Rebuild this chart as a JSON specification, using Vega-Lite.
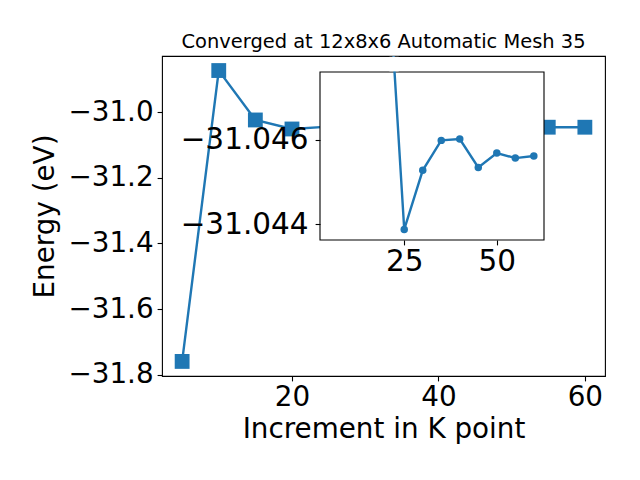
{
  "$schema": "https://vega.github.io/schema/vega-lite/v6.json",
  "width": 443,
  "height": 320,
  "autosize": "none",
  "padding": {"left": 162, "top": 56, "right": 35, "bottom": 104},
  "background": "white",
  "config": {
    "font": "DejaVu Sans",
    "view": {"stroke": "black", "strokeWidth": 1.1},
    "axis": {
      "grid": false,
      "domain": false,
      "tickColor": "black",
      "tickSize": 4.9,
      "tickWidth": 1.1,
      "labelColor": "black",
      "labelFontSize": 27.8,
      "labelFont": "DejaVu Sans",
      "titleFont": "DejaVu Sans",
      "titleFontSize": 27.8,
      "titleFontWeight": "normal",
      "titleColor": "black",
      "labelPadding": 3,
      "labelFlush": false,
      "labelOverlap": false
    }
  },
  "title": {
    "text": "Converged at 12x8x6 Automatic Mesh 35",
    "font": "DejaVu Sans",
    "fontSize": 19.44,
    "fontWeight": "normal",
    "color": "black",
    "anchor": "middle",
    "baseline": "alphabetic",
    "frame": "group",
    "offset": -11
  },
  "datasets": {
    "energy": [
      {"k": 5, "energy": -31.7596},
      {"k": 10, "energy": -30.8728},
      {"k": 15, "energy": -31.0235},
      {"k": 20, "energy": -31.051},
      {"k": 25, "energy": -31.04388},
      {"k": 30, "energy": -31.04528},
      {"k": 35, "energy": -31.04599},
      {"k": 40, "energy": -31.04602},
      {"k": 45, "energy": -31.04535},
      {"k": 50, "energy": -31.04569},
      {"k": 55, "energy": -31.04557},
      {"k": 60, "energy": -31.04562}
    ]
  },
  "data": {"name": "energy"},
  "layer": [
    {
      "layer": [
        {
          "mark": {"type": "line", "color": "#1f77b4", "strokeWidth": 2.4},
          "encoding": {
            "x": {"field": "k", "type": "quantitative", "scale": {"domain": [2.25, 62.75], "zero": false, "nice": false}, "axis": {"values": [20, 40, 60], "title": "Increment in K point", "orient": "bottom", "titlePadding": 4}},
            "y": {"field": "energy", "type": "quantitative", "scale": {"domain": [-31.804, -30.8285], "zero": false, "nice": false}, "axis": {"values": [-31.8, -31.6, -31.4, -31.2, -31.0], "format": ".1f", "title": "Energy (eV)", "orient": "left", "titlePadding": 8, "labelPadding": 4}}
          }
        },
        {
          "mark": {"type": "point", "shape": "square", "filled": true, "size": 220, "color": "#1f77b4", "opacity": 1},
          "encoding": {
            "x": {"field": "k", "type": "quantitative", "scale": {"domain": [2.25, 62.75], "zero": false, "nice": false}, "axis": {"values": [20, 40, 60], "title": "Increment in K point", "orient": "bottom", "titlePadding": 4}},
            "y": {"field": "energy", "type": "quantitative", "scale": {"domain": [-31.804, -30.8285], "zero": false, "nice": false}, "axis": {"values": [-31.8, -31.6, -31.4, -31.2, -31.0], "format": ".1f", "title": "Energy (eV)", "orient": "left", "titlePadding": 8, "labelPadding": 4}}
          }
        }
      ]
    },
    {
      "transform": [{"filter": "datum.k >= 20"}],
      "layer": [
        {
          "data": {"values": [{}]},
          "mark": {"type": "rect", "fill": "white", "stroke": "black", "strokeWidth": 1.1},
          "encoding": {
            "x": {"datum": 2.25, "type": "quantitative", "scale": {"domain": [2.25, 62.75], "range": [158, 382], "zero": false, "nice": false}, "axis": {"values": [25, 50], "title": null, "orient": "bottom", "offset": -136, "zindex": 1, "labelFontSize": 29.5}},
            "x2": {"datum": 62.75},
            "y": {"datum": -31.04761, "type": "quantitative", "scale": {"domain": [-31.04761, -31.04363], "range": [16, 184], "zero": false, "nice": false}, "axis": {"values": [-31.046, -31.044], "format": ".3f", "title": null, "orient": "left", "offset": -158, "zindex": 1, "labelFontSize": 29.5, "labelPadding": 7}},
            "y2": {"datum": -31.04363}
          }
        },
        {
          "mark": {"type": "line", "color": "#1f77b4", "strokeWidth": 2.4, "clip": true},
          "encoding": {
            "x": {"field": "k", "type": "quantitative", "scale": {"domain": [2.25, 62.75], "range": [158, 382], "zero": false, "nice": false}, "axis": {"values": [25, 50], "title": null, "orient": "bottom", "offset": -136, "zindex": 1, "labelFontSize": 29.5}},
            "y": {"field": "energy", "type": "quantitative", "scale": {"domain": [-31.04761, -31.04363], "range": [16, 184], "zero": false, "nice": false}, "axis": {"values": [-31.046, -31.044], "format": ".3f", "title": null, "orient": "left", "offset": -158, "zindex": 1, "labelFontSize": 29.5, "labelPadding": 7}}
          }
        },
        {
          "mark": {"type": "point", "shape": "circle", "filled": true, "size": 56, "color": "#1f77b4", "opacity": 1, "clip": true},
          "encoding": {
            "x": {"field": "k", "type": "quantitative", "scale": {"domain": [2.25, 62.75], "range": [158, 382], "zero": false, "nice": false}, "axis": {"values": [25, 50], "title": null, "orient": "bottom", "offset": -136, "zindex": 1, "labelFontSize": 29.5}},
            "y": {"field": "energy", "type": "quantitative", "scale": {"domain": [-31.04761, -31.04363], "range": [16, 184], "zero": false, "nice": false}, "axis": {"values": [-31.046, -31.044], "format": ".3f", "title": null, "orient": "left", "offset": -158, "zindex": 1, "labelFontSize": 29.5, "labelPadding": 7}}
          }
        },
        {
          "data": {"values": [{}]},
          "mark": {"type": "rect", "fill": "white", "strokeWidth": 0, "clip": true},
          "encoding": {
            "x": {"datum": 21.0, "type": "quantitative", "scale": {"domain": [2.25, 62.75], "range": [158, 382], "zero": false, "nice": false}, "axis": {"values": [25, 50], "title": null, "orient": "bottom", "offset": -136, "zindex": 1, "labelFontSize": 29.5}},
            "x2": {"datum": 23.5},
            "y": {"datum": -31.04797, "type": "quantitative", "scale": {"domain": [-31.04761, -31.04363], "range": [16, 184], "zero": false, "nice": false}, "axis": {"values": [-31.046, -31.044], "format": ".3f", "title": null, "orient": "left", "offset": -158, "zindex": 1, "labelFontSize": 29.5, "labelPadding": 7}},
            "y2": {"datum": -31.047625}
          }
        }
      ]
    }
  ],
  "resolve": {
    "scale": {"x": "independent", "y": "independent"},
    "axis": {"x": "independent", "y": "independent"}
  }
}
